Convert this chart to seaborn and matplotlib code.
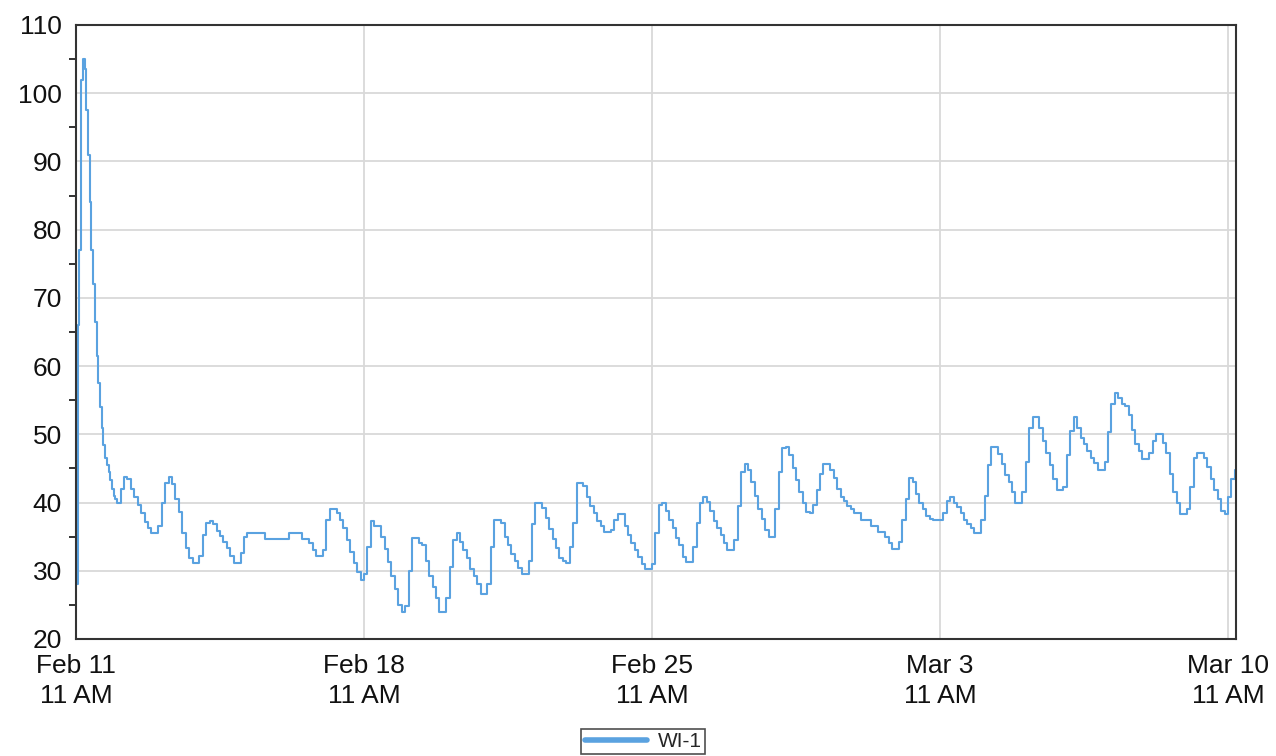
import numpy as np
import pandas as pd
import matplotlib
matplotlib.use("Agg")
import matplotlib.pyplot as plt
import matplotlib.dates as mdates
from matplotlib.ticker import MultipleLocator, FuncFormatter
from matplotlib.lines import Line2D
import seaborn as sns

# ---------------- data ----------------
series_name = "WI-1"
start_time = "2024-02-11 11:00"

# hourly readings for the first day (spike at installation)
level_first_day_hourly = [28, 66, 77, 102, 105, 103.5, 97.5, 91, 84, 77, 72, 66.5,
                          61.5, 57.5, 54, 51, 48.5, 46.5, 45.5, 44.5, 43.3, 42, 41, 40.5]

# 2-hourly readings from day 1 onwards (12 per day)
level_2h = [
    40, 42, 43.7, 43.5, 42, 40.8, 39.6, 38.5, 37.2, 36.3, 35.6, 35.6,            # day 1
    36.5, 40, 42.8, 43.7, 42.7, 40.5, 38.6, 35.5, 33.3, 31.8, 31.2, 31.2,        # day 2
    32.2, 35.2, 37, 37.3, 36.8, 35.9, 35.1, 34.2, 33.3, 32.2, 31.2, 31.2,        # day 3
    32.6, 35, 35.6, 35.6, 35.6, 35.6, 35.6, 34.7, 34.7, 34.7, 34.7, 34.7,        # day 4
    34.7, 34.7, 35.6, 35.6, 35.6, 35.6, 34.7, 34.7, 34, 33, 32.1, 32.1,          # day 5
    33, 37.5, 39.1, 39.1, 38.4, 37.5, 36.3, 34.5, 32.8, 31.1, 29.8, 28.7,        # day 6
    29.5, 33.5, 37.3, 36.6, 36.6, 35, 33.2, 31.3, 29.2, 27.4, 25, 23.9,          # day 7
    24.8, 30, 34.8, 34.8, 34, 33.8, 31.4, 29.2, 27.6, 26, 23.9, 23.9,            # day 8
    26, 30.5, 34.5, 35.5, 34.2, 33.1, 31.8, 30.2, 29.2, 28, 26.6, 26.6,          # day 9
    28, 33.5, 37.5, 37.5, 37, 35, 33.8, 32.5, 31.5, 30.4, 29.5, 29.5,            # day 10
    31.5, 36.8, 40, 40, 39.2, 37.7, 36.1, 34.6, 33.4, 31.8, 31.4, 31.2,          # day 11
    33.5, 37, 42.9, 42.9, 42.5, 40.8, 39.5, 38.4, 37.3, 36.5, 35.7, 35.7,        # day 12
    36, 37.5, 38.3, 38.3, 36.5, 35.2, 34, 33, 32, 31, 30.3, 30.3,                # day 13
    31, 35.5, 39.6, 39.9, 38.7, 37.5, 36.2, 34.8, 33.8, 32, 31.3, 31.3,          # day 14
    33.5, 37, 40, 40.8, 40.1, 38.7, 37.3, 36.2, 35.2, 34, 33, 33,                # day 15
    34.5, 39.5, 44.5, 45.6, 44.8, 43, 41, 39, 37.6, 36, 35, 35,                  # day 16
    39, 44.5, 48, 48.1, 46.9, 45, 43.3, 41.5, 40, 38.6, 38.4, 39.6,              # day 17
    41.8, 44.2, 45.6, 45.6, 44.8, 43.6, 42, 40.8, 40.2, 39.5, 39, 38.4,          # day 18
    38.4, 37.4, 37.4, 37.4, 36.5, 36.5, 35.7, 35.7, 35, 34, 33.2, 33.2,          # day 19
    34.2, 37.5, 40.5, 43.6, 43, 41.3, 40, 39.1, 38.1, 37.6, 37.4, 37.4,          # day 20
    37.4, 38.4, 40.2, 40.8, 40, 39.3, 38.4, 37.5, 36.8, 36.2, 35.6, 35.6,        # day 21
    37.5, 41, 45.5, 48.1, 48.1, 47.1, 45.6, 44, 43, 41.6, 40, 40,                # day 22
    41.5, 46, 51, 52.5, 52.5, 51, 49, 47.3, 45.5, 43.5, 41.8, 41.8,              # day 23
    42.3, 47, 50.5, 52.5, 51, 49.4, 48.6, 47.6, 46.6, 45.8, 44.7, 44.7,          # day 24
    46, 50.3, 54.5, 56.1, 55.3, 54.5, 54.2, 52.8, 50.6, 48.6, 47.5, 46.4,        # day 25
    46.4, 47.2, 49, 50, 50, 48.7, 47.2, 44.2, 41.5, 40, 38.3, 38.3,              # day 26
    39, 42.3, 46.5, 47.3, 47.3, 46.5, 45.2, 43.5, 41.8, 40.5, 38.8, 38.3,        # day 27
    40.8, 43.5, 44.7, 44.7,                                                      # day 28
]

tick_days = [0, 7, 14, 21, 28]
y_ticks = [20, 30, 40, 50, 60, 70, 80, 90, 100, 110]

# ---------------- build table ----------------
t0 = pd.Timestamp(start_time)
times = ([t0 + pd.Timedelta(hours=h) for h in range(len(level_first_day_hourly))] +
         [t0 + pd.Timedelta(hours=24 + 2 * i) for i in range(len(level_2h))])
df = pd.DataFrame({"time": times,
                   "level": level_first_day_hourly + level_2h,
                   "series": series_name})

# ---------------- style ----------------
sns.set_theme(style="white")
plt.rcParams["font.family"] = ["Liberation Sans", "DejaVu Sans"]

line_color = "#5AA2E0"
W, H = 1276, 756
fig = plt.figure(figsize=(W / 100, H / 100), dpi=100)
ax = fig.add_axes([76 / W, 1 - 639 / H, (1236 - 76) / W, (639 - 25) / H])

sns.lineplot(data=df, x="time", y="level", hue="series", palette=[line_color],
             estimator=None, drawstyle="steps-post", linewidth=1.5,
             ax=ax, legend=False)

ax.set_xlim(t0, t0 + pd.Timedelta(hours=28 * 24 + 4.7))
ax.set_ylim(20, 110)
ax.set_xticks([t0 + pd.Timedelta(days=d) for d in tick_days])
ax.set_yticks(y_ticks)
ax.yaxis.set_minor_locator(MultipleLocator(5))


def fmt_date(x, pos):
    d = mdates.num2date(x)
    hour = d.hour % 12 or 12
    return f"{d.strftime('%b')} {d.day}\n{hour} {d.strftime('%p')}"


ax.xaxis.set_major_formatter(FuncFormatter(fmt_date))
ax.set_xlabel("")
ax.set_ylabel("")

ax.grid(True, which="major", color="#d9d9d9", linewidth=1.3)
ax.set_axisbelow(True)
for s in ax.spines.values():
    s.set_visible(True)
    s.set_color("#333333")
    s.set_linewidth(1.5)

ax.tick_params(axis="both", which="major", direction="out", length=7, width=1.3,
               color="#222222", labelsize=19, labelcolor="#111111")
ax.tick_params(axis="y", which="minor", direction="out", length=5, width=1.3,
               color="#222222", left=True)
ax.tick_params(axis="y", which="major", pad=3)
ax.tick_params(axis="x", which="major", pad=4)
for lab in ax.get_xticklabels():
    lab.set_linespacing(1.3)

handle = Line2D([], [], color=line_color, linewidth=4)
leg = fig.legend([handle], [series_name], loc="lower center",
                 bbox_to_anchor=(643 / W, 0.002), frameon=True, fancybox=False,
                 edgecolor="#222222", fontsize=15, handlelength=3.0,
                 borderpad=0.15, handletextpad=0.5, borderaxespad=0.0)
leg.get_frame().set_linewidth(1.2)

fig.savefig("out.png", dpi=100)
